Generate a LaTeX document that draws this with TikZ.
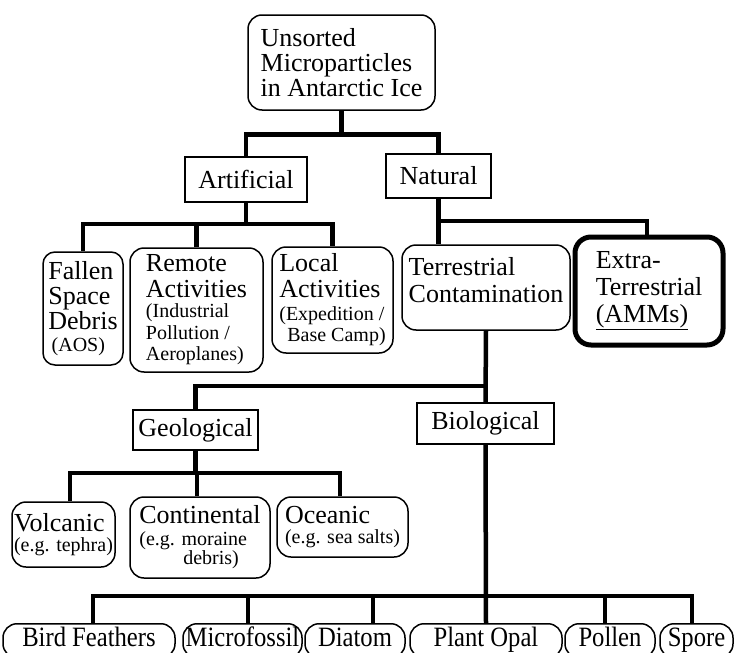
\documentclass[tikz,border=0pt]{standalone}
\usepackage{fontspec}
\setmainfont{Liberation Serif}
\newfontfamily\botfont[FakeStretch=0.88]{Liberation Serif}
\usetikzlibrary{calc}
\newcommand{\smtxt}{\fontsize{20}{21}\selectfont}
\begin{document}
\begin{tikzpicture}[x=1pt,y=-1pt,
  rbox/.style={draw, line width=1.5pt, rounded corners=14pt, align=left, inner sep=2pt, font=\fontsize{26}{26}\selectfont},
  sbox/.style={draw, line width=1.5pt, inner sep=2pt, font=\fontsize{26}{26}\selectfont},
  bbox/.style={draw, line width=1.5pt, rounded corners=14pt, anchor=north, inner xsep=2pt, inner ysep=4pt, text height=19pt, text depth=7pt, font=\botfont\fontsize{28}{30}\selectfont},
  conn/.style={line width=4.5pt, line join=miter}]
\useasboundingbox (0,0) rectangle (734,653);
\clip (0,0) rectangle (734,653);

% boxes
\node[rbox, minimum width=187pt, minimum height=95pt] (top) at (341.5,62.5) {Unsorted\\[-1pt]Microparticles\\[-1pt]in Antarctic Ice};
\node[sbox, minimum width=122pt, minimum height=45pt] (art) at (246,179.5) {Artificial};
\node[sbox, minimum width=105pt, minimum height=44pt] (nat) at (438.5,176) {Natural};

\node[rbox, rounded corners=12pt, minimum width=80pt, minimum height=113pt] (fallen) at (83,308.5) {Fallen\\[-1pt]Space\\[-1pt]Debris\\[-4pt]{\smtxt\,(AOS)}};
\node[rbox, minimum width=133pt, minimum height=124pt] (remote) at (196.5,310) {Remote\\Activities\\[-6pt]{\smtxt(Industrial}\\[-4pt]{\smtxt Pollution /}\\[-5pt]{\smtxt Aeroplanes)}};
\node[rbox, minimum width=121pt, minimum height=106pt] (local) at (332.5,300) {Local\\Activities\\[-3pt]{\smtxt(Expedition /}\\[-5pt]{\smtxt\hspace*{8pt}Base Camp)}};
\node[rbox, minimum width=168pt, minimum height=85pt, text depth=15pt] (terr) at (486,287.5) {Terrestrial\\[1pt]Contamination};
\node[rbox, line width=5pt, rounded corners=16pt, minimum width=148pt, minimum height=108pt] (extra) at (649,291) {Extra-\\[1pt]Terrestrial\\[1pt]\underline{(AMMs)}};

\node[sbox, minimum width=125pt, minimum height=40pt] (geo) at (195.5,430) {Geological};
\node[sbox, minimum width=137pt, minimum height=41pt] (bio) at (485.5,423.5) {Biological};

\node[rbox, minimum width=103pt, minimum height=65pt] (vol) at (63.5,534.5) {Volcanic\\[-6pt]{\smtxt(e.g. tephra)}};
\node[rbox, minimum width=140pt, minimum height=81pt] (cont) at (200,537.5) {Continental\\[-4pt]{\smtxt(e.g. moraine}\\[-7pt]{\smtxt\hspace*{44pt}debris)}};
\node[rbox, minimum width=131pt, minimum height=60pt] (ocean) at (342.5,527) {Oceanic\\[-6pt]{\smtxt(e.g. sea salts)}};

\node[bbox, minimum width=172pt] (bird) at (89,623) {Bird Feathers};
\node[bbox, minimum width=119pt] (micro) at (242.5,623) {Microfossil};
\node[bbox, minimum width=100pt] (diatom) at (355,623) {Diatom};
\node[bbox, minimum width=152pt] (plant) at (486,623) {Plant Opal};
\node[bbox, minimum width=90pt] (pollen) at (610,623) {Pollen};
\node[bbox, minimum width=73pt] (spore) at (696.5,623) {Spore};

% connectors
\draw[conn] (top.south) -- ++(0,25);
\draw[conn] (art.north) -- ++(0,-22) -| (nat.north);

\draw[conn] (art.south) -- ++(0,21) coordinate (j1);
\draw[conn] (fallen.north) -- (fallen.north |- j1) -| (local.north);
\draw[conn] (remote.north) -- (remote.north |- j1);

\draw[conn] (nat.south) -- (nat.south |- terr.north);
\draw[conn] ($(nat.south)+(0,22)$) -| ([xshift=-2pt]extra.north);

\draw[conn] (terr.south) -- (bio.north);
\draw[conn] (geo.north) |- ($(terr.south)+(0,55)$);

\draw[conn] (geo.south) -- ++(0,22) coordinate (j3);
\draw[conn] ([xshift=6.5pt]vol.north) -- ([xshift=6.5pt]vol.north |- j3) -| ([xshift=-2.5pt]ocean.north);
\draw[conn] ([xshift=-3pt]cont.north) -- ([xshift=-3pt]cont.north |- j3);

\coordinate (j4) at ($(bio.south)+(0,151)$);
\draw[conn] (bio.south) -- (plant.north);
\draw[conn] ([xshift=4pt]bird.north) -- ([xshift=4pt]bird.north |- j4) -| ([xshift=-4.5pt]spore.north);
\draw[conn] ([xshift=5.5pt]micro.north) -- ([xshift=5.5pt]micro.north |- j4);
\draw[conn] ([xshift=18pt]diatom.north) -- ([xshift=18pt]diatom.north |- j4);
\draw[conn] ([xshift=-5pt]pollen.north) -- ([xshift=-5pt]pollen.north |- j4);
\end{tikzpicture}
\end{document}
